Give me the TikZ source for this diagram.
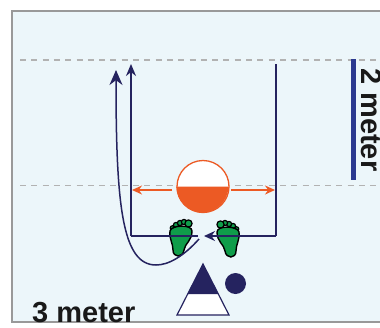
\documentclass[tikz,border=0pt]{standalone}
\usepackage{fontspec}
\setmainfont{Liberation Sans}
\usetikzlibrary{arrows.meta}
\definecolor{court}{HTML}{ECF6FA}
\definecolor{navy}{HTML}{25235F}
\definecolor{barblue}{HTML}{2B3990}
\definecolor{ballorange}{HTML}{EC5A24}
\definecolor{footgreen}{HTML}{0F9D4A}
\tikzset{
    mark line/.style = {gray!60, line width = 1.4pt, dash pattern = on 6pt off 5.3pt},
    run line/.style = {navy, line width = 1.5pt},
    ball arrow/.style = {ballorange, line width = 1.5pt, -{Stealth[length = 10pt, width = 9pt]}},
    meter label/.style = {font = \bfseries\fontsize{29}{29}\selectfont, text = black!90, inner sep = 0pt},
    foot/.pic = {
        \foreach \toex/\toey/\toer in {-8.5/-9/2.3, -5/-12/2.6, -1/-14/2.6, 3/-15/2.6, 7.5/-13.5/3.6} {
            \draw[black, line width = 1.2pt, fill = footgreen] (\toex, \toey) circle (\toer);
        }
        \draw[black, line width = 1.4pt, fill = footgreen] (-11, -6) .. controls (-12, 2) and (-8, 6) .. (-8, 13) .. controls (-8, 21) and (2, 21) .. (3, 13) .. controls (4, 6) and (11, 4) .. (11, -6) .. controls (11, -13) and (-10, -12) .. cycle;
    }
}
\begin{document}
\begin{tikzpicture}[x = 1pt, y = -1pt]
    \useasboundingbox (0, 0) rectangle (380, 327);
    \draw[gray!80, line width = 1.6pt, fill = court] (390, 11) -- (12, 11) -- (12, 322) -- (390, 322);
    \draw[mark line] (20, 60) -- (380, 60);
    \draw[mark line] (20, 185.5) -- (380, 185.5);

    \coordinate (cornerL) at (131, 236);
    \coordinate (cornerR) at (276, 236);
    \coordinate (topL) at (131, 64);
    \coordinate (topR) at (276, 64);
    \coordinate (gapL) at (198, 236);
    \coordinate (gapR) at (204, 236);
    \coordinate (curveEnd) at (199, 239);
    \coordinate (curveTop) at (116, 70);
    \coordinate (curveLow) at (156, 265);

    \pic at (181, 237) {foot};
    \pic[xscale = -1] at (228, 238) {foot};

    \draw[run line, -{Stealth[length = 12pt, width = 10pt]}] (cornerL) -- (topL);
    \draw[run line] (gapL) -- (cornerL);
    \draw[run line] (topR) -- (cornerR);
    \draw[run line, -{Stealth[length = 11pt, width = 10pt]}] (cornerR) -- (gapR);
    \draw[run line, -{Stealth[length = 15pt, width = 13pt]}] (curveEnd) .. controls (183, 257) and (168, 265) .. (curveLow) .. controls (122, 265) and (116, 205) .. (curveTop);

    \node[circle, draw = ballorange, line width = 1.3pt, fill = white, minimum size = 52pt, inner sep = 0pt] (ball) at (203, 186.5) {};
    \fill[ballorange] (ball.west) arc[start angle = 180, end angle = 0, radius = 26] -- cycle;
    \draw[ball arrow] (172, 190) -- (132, 190);
    \draw[ball arrow] (231, 190) -- (275, 190);

    \draw[navy, line width = 1.2pt, fill = white] (203, 264) -- (177, 315) -- (229, 315) -- cycle;
    \fill[navy] (203, 264) -- (187.6, 294) -- (218.4, 294) -- cycle;
    \fill[navy] (235.5, 283.5) circle (10.5);

    \fill[barblue] (350.5, 59) rectangle (356, 180);
    \node[meter label, anchor = south west, rotate = -90] (sidelabel) at (361, 68) {2 meter};
    \node[meter label, anchor = base west] (baselabel) at (32, 322) {3 meter};
\end{tikzpicture}
\end{document}
